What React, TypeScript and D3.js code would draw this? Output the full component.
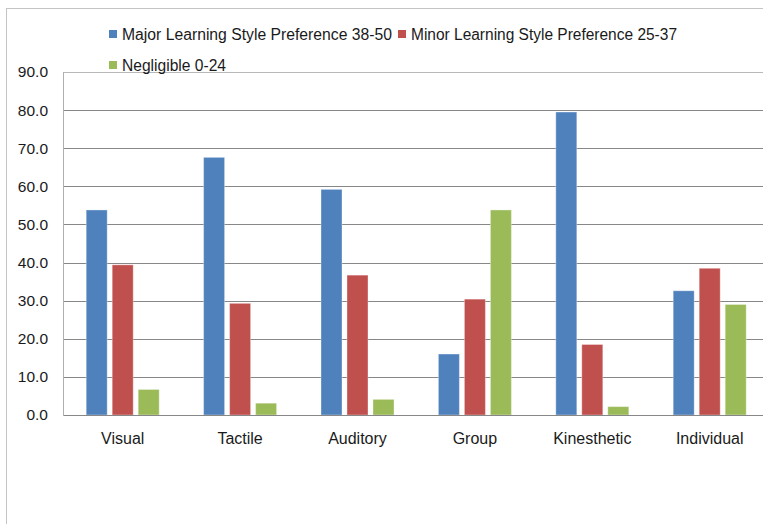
import React from "react";
import * as d3 from "d3";

const categories = ["Visual", "Tactile", "Auditory", "Group", "Kinesthetic", "Individual"];
const seriesNames = [
  "Major Learning Style Preference 38-50",
  "Minor Learning Style Preference 25-37",
  "Negligible 0-24",
];
const majorValues = [53.8, 67.6, 59.2, 16.0, 79.5, 32.6];
const minorValues = [39.4, 29.3, 36.7, 30.4, 18.5, 38.5];
const negligibleValues = [6.7, 3.1, 4.1, 53.8, 2.2, 29.0];
const yTicks = [0, 10, 20, 30, 40, 50, 60, 70, 80, 90];
const colors = ["#4F81BD", "#C0504D", "#9BBB59"];

const allSeries = [majorValues, minorValues, negligibleValues];

export default function App() {
  const W = 763;
  const H = 524;
  const left = 64;
  const right = 768.4;
  const top = 72;
  const bottom = 415;
  const x0 = d3.scaleBand<string>().domain(categories).range([left, right]).padding(0);
  const groupW = 73;
  const x1 = d3
    .scaleBand<string>()
    .domain(seriesNames)
    .range([0, groupW])
    .paddingInner(5 / 26)
    .paddingOuter(0);
  const y = d3.scaleLinear().domain([0, 90]).range([bottom, top]);
  const font = "'Liberation Sans', Arial, sans-serif";
  const textColor = "#1a1a1a";

  return (
    <svg
      width={W}
      height={H}
      style={{ position: "absolute", left: 0, top: 0, background: "#fff" }}
      fontFamily={font}
    >
      <rect x={0} y={0} width={W} height={H} fill="#fff" />
      {/* outer frame */}
      <rect x={6.5} y={8.5} width={W + 20} height={H + 20} fill="none" stroke="#c4c4c4" strokeWidth={1} />

      {/* gridlines */}
      {yTicks.map((t) => (
        <line
          key={"g" + t}
          x1={left}
          x2={W}
          y1={Math.round(y(t)) + 0.5}
          y2={Math.round(y(t)) + 0.5}
          stroke={t === 90 ? "#b8b8b8" : "#878787"}
          strokeWidth={1}
        />
      ))}
      <line x1={left - 0.5} x2={left - 0.5} y1={top} y2={bottom + 1} stroke="#b0b0b0" strokeWidth={1} />

      {/* bars */}
      {categories.map((c, ci) => {
        const off = (x0(c) as number) + (x0.bandwidth() - groupW) / 2;
        return (
          <g key={c}>
            {seriesNames.map((s, si) => {
              const v = allSeries[si][ci];
              const bx = off + (x1(s) as number);
              return (
                <rect
                  key={s}
                  x={bx}
                  y={y(v)}
                  width={x1.bandwidth()}
                  height={y(0) - y(v)}
                  fill={colors[si]}
                  stroke="#ffffff"
                  strokeOpacity={0.35}
                  strokeWidth={1}
                />
              );
            })}
          </g>
        );
      })}
      <line x1={left} x2={W} y1={Math.round(y(0)) + 0.5} y2={Math.round(y(0)) + 0.5} stroke="#878787" strokeWidth={1} />

      {/* y tick labels */}
      {yTicks.map((t) => (
        <text
          key={"t" + t}
          x={48}
          y={y(t)}
          dy="0.35em"
          textAnchor="end"
          fontSize={15.5}
          fill={textColor}
        >
          {t.toFixed(1)}
        </text>
      ))}

      {/* category labels */}
      {categories.map((c) => (
        <text
          key={"c" + c}
          x={(x0(c) as number) + x0.bandwidth() / 2}
          y={438}
          dy="0.35em"
          textAnchor="middle"
          fontSize={16}
          fill={textColor}
        >
          {c}
        </text>
      ))}

      {/* legend */}
      {[
        { sx: 109, sy: 34, tx: 122, tl: 270 },
        { sx: 398, sy: 34, tx: 411, tl: 266 },
        { sx: 109, sy: 65, tx: 122, tl: 104 },
      ].map((p, i) => (
        <g key={"l" + i}>
          <rect x={p.sx} y={p.sy - 4} width={8} height={8} fill={colors[i]} />
          <text
            x={p.tx}
            y={p.sy}
            dy="0.35em"
            fontSize={16}
            fill={textColor}
            textLength={p.tl}
            lengthAdjust="spacingAndGlyphs"
          >
            {seriesNames[i]}
          </text>
        </g>
      ))}
    </svg>
  );
}
